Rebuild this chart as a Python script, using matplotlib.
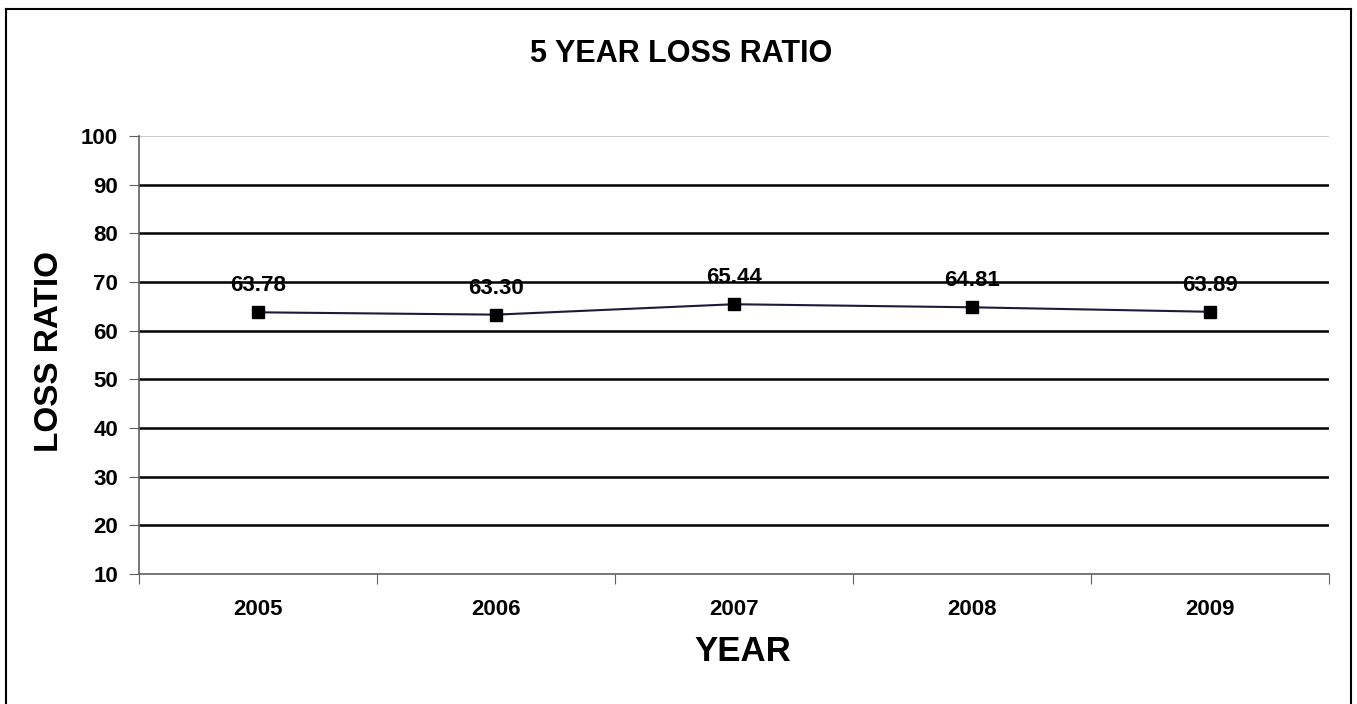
import matplotlib.pyplot as plt
from matplotlib.lines import Line2D

# datos del grafico
anios = ['2005', '2006', '2007', '2008', '2009']
loss_ratio = [63.78, 63.30, 65.44, 64.81, 63.89]
etiquetas = ['63.78', '63.30', '65.44', '64.81', '63.89']
ticks_y = [10, 20, 30, 40, 50, 60, 70, 80, 90, 100]

plt.rcParams['font.family'] = ['Liberation Sans', 'DejaVu Sans']
plt.rcParams['font.weight'] = 'bold'

fig = plt.figure(figsize=(13.57, 7.04), dpi=100)
ax = fig.add_axes([0.1024, 0.1847, 0.877, 0.622])

# marco de la figura (sin linea inferior)
borde = dict(color='black', lw=1.5, transform=fig.transFigure)
fig.add_artist(Line2D([6/1357, 6/1357], [0, 1 - 9/704], **borde))
fig.add_artist(Line2D([6/1357, 1351/1357], [1 - 9/704, 1 - 9/704], **borde))
fig.add_artist(Line2D([1351/1357, 1351/1357], [0, 1 - 9/704], **borde))

x = [i + 0.5 for i in range(len(anios))]

# lineas de grilla
for v in ticks_y[1:]:
    if v == 100:
        ax.axhline(v, color='#c0c0c0', lw=1.2, zorder=1)
    else:
        ax.axhline(v, color='black', lw=1.8, zorder=1)

ax.plot(x, loss_ratio, color='#1a1a3a', lw=1.5, marker='s', markersize=9,
        markerfacecolor='black', markeredgecolor='black', zorder=3)

for xi, yi, txt in zip(x, loss_ratio, etiquetas):
    ax.annotate(txt, (xi, yi), xytext=(0, 19), textcoords='offset points',
                ha='center', va='center', fontsize=16, fontweight='bold')

ax.set_xlim(0, len(anios))
ax.set_ylim(10, 100)
ax.set_yticks(ticks_y)
ax.set_yticklabels([str(t) for t in ticks_y], fontsize=16, fontweight='bold')
ax.set_xticks(range(len(anios) + 1))
ax.set_xticklabels([])
ax.set_xticks(x, minor=True)
ax.set_xticklabels(anios, minor=True, fontsize=16, fontweight='bold')
ax.tick_params(axis='x', which='minor', length=0, pad=18)
ax.tick_params(axis='x', which='major', length=7, color='#606060', direction='out')
ax.tick_params(axis='y', length=7, color='#606060', direction='out', pad=8)

for s in ['top', 'right']:
    ax.spines[s].set_visible(False)
for s in ['left', 'bottom']:
    ax.spines[s].set_color('#606060')
    ax.spines[s].set_linewidth(1.2)

fig.text(743/1357, 0.074, 'YEAR', ha='center', va='center', fontsize=25, fontweight='bold')
fig.text(50/1357, 0.5, 'LOSS RATIO', ha='center', va='center', rotation=90,
         fontsize=24, fontweight='bold')
fig.text(0.502, 0.924, '5 YEAR LOSS RATIO', ha='center', va='center',
         fontsize=22, fontweight='bold')

plt.savefig('out.png', dpi=100)
